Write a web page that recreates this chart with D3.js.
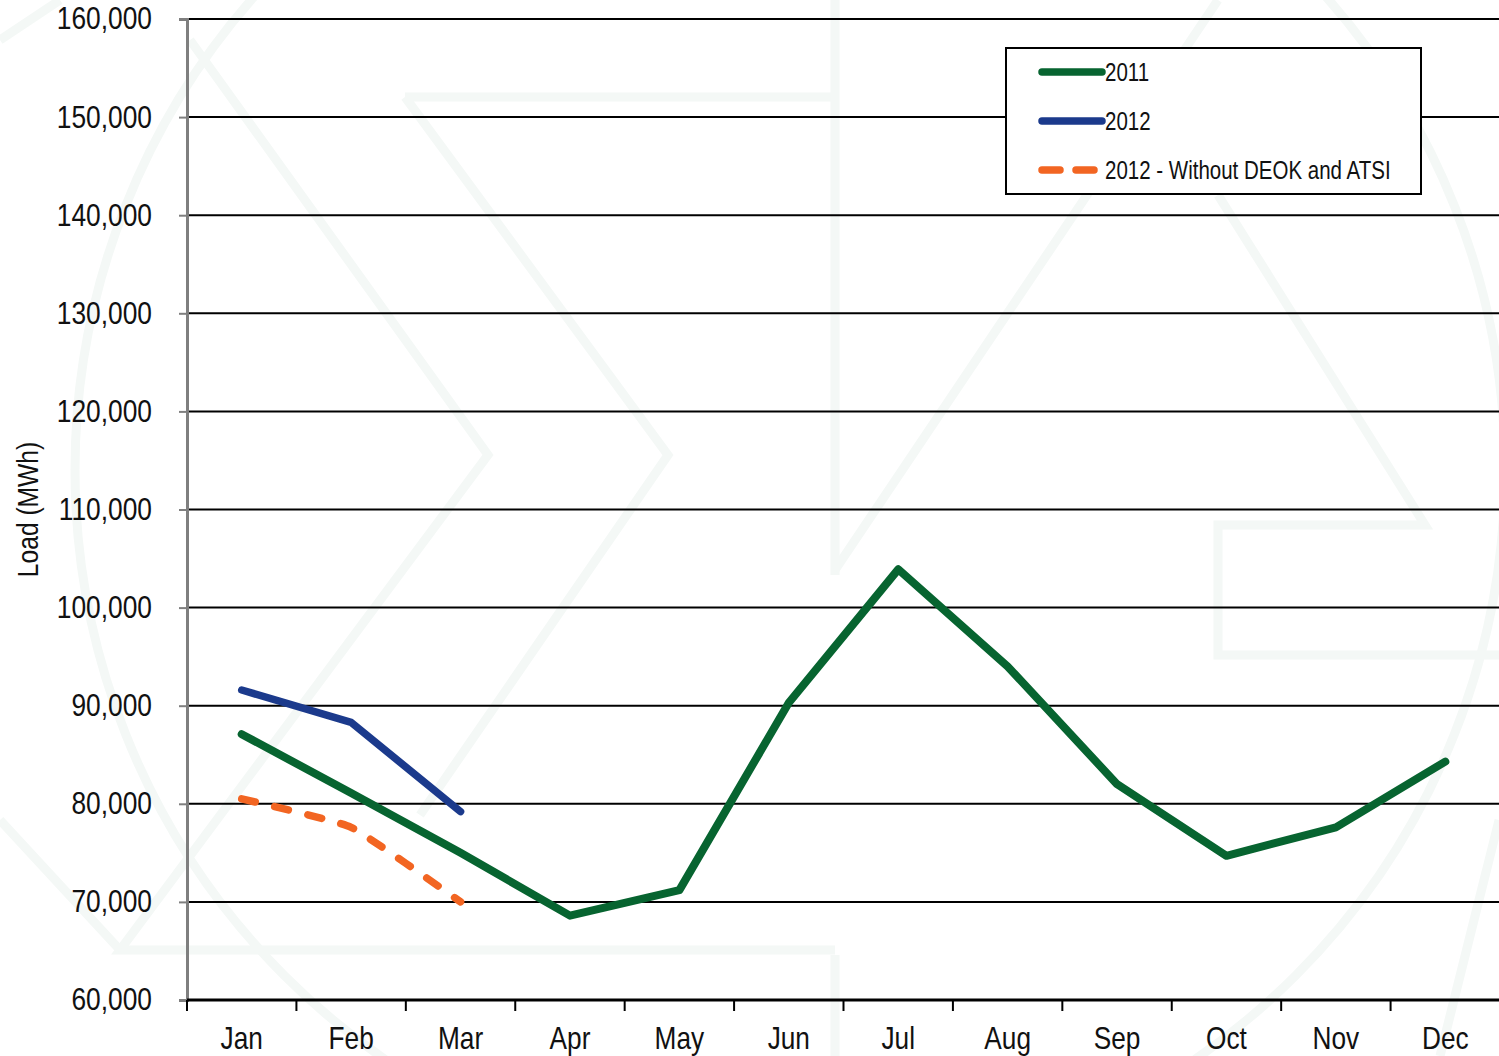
<!DOCTYPE html>
<html>
<head>
<meta charset="utf-8">
<script src="https://cdn.jsdelivr.net/npm/d3@7"></script>
<style>
  body { margin: 0; background: #fff; }
  svg text { font-family: "Liberation Sans", Arial, sans-serif; fill: #111; }
</style>
</head>
<body>
<svg id="mainSVG"></svg>
<script>
// chart data
let months = ['Jan', 'Feb', 'Mar', 'Apr', 'May', 'Jun', 'Jul', 'Aug', 'Sep', 'Oct', 'Nov', 'Dec']
let load2011 = [87100, 81100, 75000, 68600, 71200, 90300, 103900, 94000, 82000, 74700, 77600, 84300]
let load2012 = [91600, 88300, 79200]
let load2012NoDeokAtsi = [80500, 77600, 70000]
let yTicks = [60000, 70000, 80000, 90000, 100000, 110000, 120000, 130000, 140000, 150000, 160000]
let seriesNames = ['2011', '2012', '2012 - Without DEOK and ATSI']

let w = 1499, h = 1056
let m = {t: 19, r: 0, b: 56, l: 187}
let narrow = 0.82   // squeeze Liberation Sans to look like Arial Narrow

let svg = d3.select('#mainSVG').attr('width', w).attr('height', h)

// faint watermark in the background
let wm = svg.append('g').attr('fill', 'none').attr('stroke', '#f4f8f6').attr('stroke-width', 9)
wm.append('circle').attr('cx', 790).attr('cy', 470).attr('r', 715)
wm.append('path').attr('d', 'M835,0 V575 M835,955 V1056')
wm.append('path').attr('d', 'M405,97 H835 M405,97 L668,455 L420,815 M190,40 L488,455 L120,950 H835')
wm.append('path').attr('d', 'M1218,195 L1425,525 H1218 V655 H1499 M835,570 L1218,0')
wm.append('path').attr('d', 'M0,40 L60,0 M0,820 L120,950 M1499,820 L1440,1056')

let x = d3.scaleBand()
    .domain(months)
    .range([m.l, w + 1])

let y = d3.scaleLinear()
    .domain([60000, 160000])
    .range([h - m.b, m.t])

let cx = d => x(d) + x.bandwidth() / 2

// gridlines
svg.append('g')
    .selectAll('line')
    .data(yTicks.slice(1))
    .join('line')
    .attr('x1', m.l).attr('x2', w)
    .attr('y1', d => y(d)).attr('y2', d => y(d))
    .attr('stroke', '#000')
    .attr('stroke-width', 2)

// y axis
let yAxis = svg.append('g')
    .attr('transform', `translate(${m.l}, 0)`)
    .call(d3.axisLeft(y).tickValues(yTicks).tickFormat(d3.format(',')).tickSize(8))
yAxis.select('.domain').attr('stroke', '#7f7f7f').attr('stroke-width', 3)
yAxis.selectAll('.tick line').attr('stroke', '#7f7f7f').attr('stroke-width', 2)
yAxis.selectAll('.tick text')
    .attr('font-size', 31).attr('font-family', null).attr('fill', '#111')
    .attr('x', -35 / 0.85)
    .attr('transform', 'scale(0.85,1)')

svg.append('text')
    .attr('transform', `translate(38, ${(y(60000) + y(160000)) / 2}) rotate(-90) scale(${narrow},1)`)
    .attr('text-anchor', 'middle')
    .attr('font-size', 30)
    .text('Load (MWh)')

// x axis
let xAxis = svg.append('g')
    .attr('transform', `translate(0, ${h - m.b})`)
    .call(d3.axisBottom(x).tickSize(0))
xAxis.select('.domain').remove()
xAxis.selectAll('.tick text')
    .attr('font-size', 32).attr('font-family', null).attr('fill', '#111')
    .attr('y', 49).attr('dy', 0)
    .attr('transform', `scale(${narrow},1)`)
xAxis.append('line')
    .attr('x1', m.l).attr('x2', w)
    .attr('stroke', '#000').attr('stroke-width', 3)
xAxis.append('g')
    .selectAll('line')
    .data(months)
    .join('line')
    .attr('x1', d => x(d)).attr('x2', d => x(d))
    .attr('y1', 0).attr('y2', 11)
    .attr('stroke', '#000').attr('stroke-width', 2)

// lines
let line = d3.line().x((d, i) => cx(months[i])).y(d => y(d))

svg.append('path')
    .datum(load2011)
    .attr('fill', 'none')
    .attr('stroke', '#076430')
    .attr('stroke-width', 8)
    .attr('stroke-linecap', 'round')
    .attr('stroke-linejoin', 'round')
    .attr('d', line)

svg.append('path')
    .datum(load2012)
    .attr('fill', 'none')
    .attr('stroke', '#1b3a8c')
    .attr('stroke-width', 7.5)
    .attr('stroke-linecap', 'round')
    .attr('stroke-linejoin', 'round')
    .attr('d', line)

svg.append('path')
    .datum(load2012NoDeokAtsi)
    .attr('fill', 'none')
    .attr('stroke', '#f26522')
    .attr('stroke-width', 7.5)
    .attr('stroke-linecap', 'round')
    .attr('stroke-dasharray', '14 20')
    .attr('d', line.curve(d3.curveCardinal.tension(0.6)))

// legend
let legend = svg.append('g').attr('transform', 'translate(1006, 48)')
legend.append('rect')
    .attr('width', 415).attr('height', 146)
    .attr('fill', '#fff').attr('stroke', '#000').attr('stroke-width', 2)

let legendStyle = [
    {color: '#076430', dash: null},
    {color: '#1b3a8c', dash: null},
    {color: '#f26522', dash: '18 16'}
]

let items = legend.selectAll('g.item')
    .data(seriesNames)
    .join('g')
    .attr('class', 'item')
    .attr('transform', (d, i) => `translate(0, ${24 + i * 49})`)

items.append('line')
    .attr('x1', 36).attr('x2', 96)
    .attr('stroke', (d, i) => legendStyle[i].color)
    .attr('stroke-width', 7.5)
    .attr('stroke-linecap', 'round')
    .attr('stroke-dasharray', (d, i) => legendStyle[i].dash)

items.append('text')
    .attr('x', 99 / narrow)
    .attr('dy', '0.36em')
    .attr('font-size', 25)
    .attr('transform', `scale(${narrow},1)`)
    .text(d => d)
</script>
</body>
</html>
